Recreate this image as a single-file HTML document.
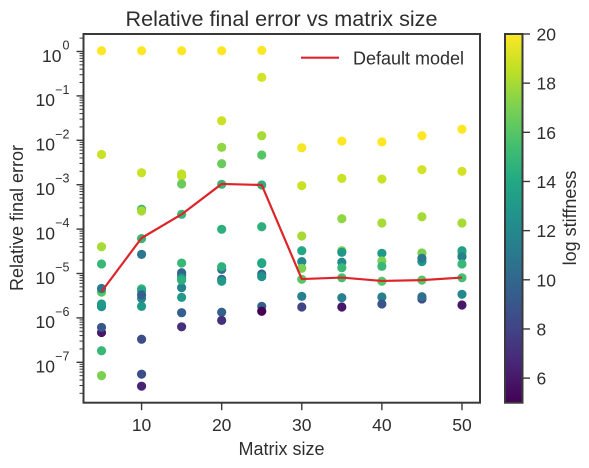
<!DOCTYPE html>
<html>
<head>
<meta charset="utf-8">
<style>
html,body{margin:0;padding:0;background:#fff;width:589px;height:468px;overflow:hidden}
svg{display:block;font-family:"Liberation Sans",Arial,sans-serif;fill:#333}
text{fill:#2e2e2e}
</style>
</head>
<body>
<svg id="chart" xmlns="http://www.w3.org/2000/svg" width="589" height="468" viewBox="0 0 589 468">
  <defs>
    <linearGradient id="viridis" x1="0" y1="1" x2="0" y2="0"></linearGradient>
  </defs>
  <text x="281.5" y="26" text-anchor="middle" font-size="21.6">Relative final error vs matrix size</text>
  <g id="marks"></g>
  <polyline id="default-line" fill="none" stroke="#dd2529" stroke-width="2.2" stroke-linejoin="round"></polyline>
  <g id="axes"></g>
  <rect x="83.5" y="34" width="396.5" height="368.7" fill="none" stroke="#3a3a3a" stroke-width="2"></rect>
  <g>
    <line x1="301" x2="339" y1="57.7" y2="57.7" stroke="#dd2529" stroke-width="2.2"></line>
    <text x="353" y="64.5" font-size="18">Default model</text>
  </g>
  <text x="281.5" y="455" text-anchor="middle" font-size="18">Matrix size</text>
  <text transform="translate(23 218) rotate(-90)" text-anchor="middle" font-size="18">Relative final error</text>
  <rect x="505" y="34" width="17.5" height="368.7" fill="url(#viridis)" stroke="#3a3a3a" stroke-width="2"></rect>
  <g id="cbar-axis"></g>
  <text transform="translate(576 218) rotate(-90)" text-anchor="middle" font-size="18">log stiffness</text>
</svg>
<script>
// Scatter data, in draw order
const matrixSizes = [
  5,5,5,5,5,5,5,5,5,5,5,5,
  10,10,10,10,10,10,10,10,10,10,10,10,10,10,
  15,15,15,15,15,15,15,15,15,15,15,15,15,15,
  20,20,20,20,20,20,20,20,20,20,20,20,
  25,25,25,25,25,25,25,25,25,25,25,25,
  30,30,30,30,30,30,30,30,30,
  35,35,35,35,35,35,35,35,35,35,
  40,40,40,40,40,40,40,40,40,
  45,45,45,45,45,45,45,45,45,
  50,50,50,50,50,50,50,50,50,50
];
const relativeErrors = [
  1.04,4.8e-3,4.0e-5,1.64e-5,3.8e-6,4.6e-6,1.79e-6,2.06e-6,4.7e-7,6.1e-7,1.82e-7,5.0e-8,
  1.04,1.86e-3,2.8e-4,2.56e-4,6.1e-5,2.7e-5,4.5e-6,4.1e-6,1.82e-6,2.76e-6,3.3e-6,3.3e-7,5.4e-8,2.9e-8,
  1.04,1.74e-3,1.57e-3,1.04e-3,2.15e-4,1.72e-5,9.2e-6,1.04e-5,4.8e-6,7.8e-6,7.1e-6,2.9e-6,1.31e-6,6.3e-7,
  1.04,2.76e-2,6.95e-3,2.97e-3,1.02e-3,9.9e-5,1.24e-5,1.42e-5,7.4e-6,6.7e-6,1.34e-6,8.8e-7,
  1.06,0.262,1.27e-2,4.67e-3,9.85e-4,1.13e-4,1.75e-5,1.68e-5,9.75e-6,8.5e-6,1.82e-6,1.41e-6,
  6.8e-3,9.5e-4,7.0e-5,3.26e-5,1.85e-5,1.31e-5,7.4e-6,3.06e-6,1.76e-6,
  9.6e-3,1.39e-3,1.71e-4,3.26e-5,3.0e-5,1.79e-5,1.35e-5,8.0e-6,2.85e-6,1.76e-6,
  9.2e-3,1.34e-3,1.37e-4,2.85e-5,1.91e-5,1.45e-5,6.7e-6,2.96e-6,2.06e-6,
  1.27e-2,2.18e-3,1.9e-4,2.9e-5,1.85e-5,2.2e-5,7.1e-6,2.67e-6,3.0e-6,
  1.77e-2,2.0e-3,1.37e-4,2.9e-5,3.26e-5,2.39e-5,1.64e-5,8.0e-6,3.4e-6,1.95e-6
];
const logStiffness = [
  20,18.8,18,15,16,11,12.5,13,6,9,15,17,
  20,18.8,15,18,15,11,15,14,13,12,9.5,8.5,8.5,6.5,
  20,18.6,18.6,16.5,15,15,10,10,11.5,13,14.5,13,9.5,7,
  20,18.8,17.5,16.5,15,14.5,10.5,14.5,10,13,9.5,7,
  20,19,18,16,14.5,14.5,14.5,14,10,12.5,9.5,5,
  19.8,18.8,18,14,12,17,16,11.5,8,
  20,18.8,17.5,17,13,12,15,15.5,11.5,6,
  20,18.8,18,13,17,15,16,11.5,9,
  20,19,18,17,13,11,16,8.5,10.5,
  20,19,18,17,13.5,11.5,15,15.5,12,6
];
// Default model line
const lineSizes = [5,10,15,20,25,30,35,40,45,50];
const lineErrors = [3.9e-6,6.3e-5,2.15e-4,1.04e-3,9.85e-4,7.5e-6,8.1e-6,6.8e-6,7.1e-6,8.1e-6];
// Tick labels
const xTicks = [10,20,30,40,50];
const yTickExponents = [0,-1,-2,-3,-4,-5,-6,-7];
const colorTicks = [6,8,10,12,14,16,18,20];
const viridisStops = ["#440154","#482475","#414487","#355f8d","#2a788e","#21918c","#22a884","#44bf70","#7ad151","#bddf26","#fde725"];

const NS = "http://www.w3.org/2000/svg";
const X0 = 83.5, X1 = 480, Y0 = 34, Y1 = 402.7;
const xMin = 2.75, xMax = 52.25, yMin = -7.91, yMax = 0.394, cMin = 5, cMax = 20;
const xScale = v => X0 + (v - xMin) / (xMax - xMin) * (X1 - X0);
const yScale = v => Y1 - (Math.log10(v) - yMin) / (yMax - yMin) * (Y1 - Y0);
const yExp = e => Y1 - (e - yMin) / (yMax - yMin) * (Y1 - Y0);
const cScale = v => Y1 - (v - cMin) / (cMax - cMin) * (Y1 - Y0);

function hexRgb(h){return [1,3,5].map(i=>parseInt(h.substr(i,2),16));}
function viridis(k){
  const t = Math.max(0, Math.min(1, (k - cMin) / (cMax - cMin))) * (viridisStops.length - 1);
  const i = Math.min(Math.floor(t), viridisStops.length - 2), f = t - i;
  const a = hexRgb(viridisStops[i]), b = hexRgb(viridisStops[i + 1]);
  return "rgb(" + a.map((c, j) => Math.round(c + (b[j] - c) * f)).join(",") + ")";
}
function make(tag, attrs, parent, txt){
  const el = document.createElementNS(NS, tag);
  for (const k in attrs) el.setAttribute(k, attrs[k]);
  if (txt !== undefined) el.textContent = txt;
  parent.appendChild(el);
  return el;
}

const grad = document.getElementById("viridis");
viridisStops.forEach((c, i) => {
  make("stop", {offset: i / (viridisStops.length - 1), "stop-color": c}, grad);
});

const marks = document.getElementById("marks");
matrixSizes.forEach((s, i) => {
  const dot = make("circle", {cx: xScale(s), cy: yScale(relativeErrors[i]), r: 4.6, fill: viridis(logStiffness[i])}, marks);
  
  
});

const lineEl = document.getElementById("default-line");
lineEl.setAttribute("points", lineSizes.map((s, i) => xScale(s) + "," + yScale(lineErrors[i])).join(" "));

const axes = document.getElementById("axes");
const tickColor = "#3a3a3a";
xTicks.forEach(v => {
  const x = xScale(v);
  const t = make("line", {x1: x, x2: x, y1: Y1, y2: Y1 + 7.5, stroke: tickColor, "stroke-width": 1.4}, axes);
  
  
  const l = make("text", {x: x, y: 431, "text-anchor": "middle", "font-size": 17.5}, axes, String(v));
  
  
});
yTickExponents.forEach(e => {
  const y = yExp(e);
  const t = make("line", {x1: X0 - 7, x2: X0, y1: y, y2: y, stroke: tickColor, "stroke-width": 1.4}, axes);
  
  
  const l = make("text", {x: e === 0 ? 61.5 : 55, y: y + 10.3, "text-anchor": "end", "font-size": 17.5}, axes, "10");
  
  
  const p = make("text", {x: 69.5, y: y - 2, "text-anchor": "end", "font-size": 12.5}, axes, String(e).replace("-", "\u2212"));
  
  
});
for (let e = 0; e >= -8; e--) {
  for (let m = 2; m <= 9; m++) {
    const y = yExp(e + Math.log10(m));
    if (y < Y0 || y > Y1) continue;
    const t = make("line", {x1: X0 - 4, x2: X0, y1: y, y2: y, stroke: tickColor, "stroke-width": 1}, axes);
    
    
  }
}
const cbarAxis = document.getElementById("cbar-axis");
colorTicks.forEach(v => {
  const y = cScale(v);
  const t = make("line", {x1: 522.5, x2: 530, y1: y, y2: y, stroke: tickColor, "stroke-width": 1.4}, cbarAxis);
  
  
  const l = make("text", {x: 536.5, y: y + 6.5, "font-size": 17.5}, cbarAxis, String(v));
  
  
});
</script>
</body>
</html>
